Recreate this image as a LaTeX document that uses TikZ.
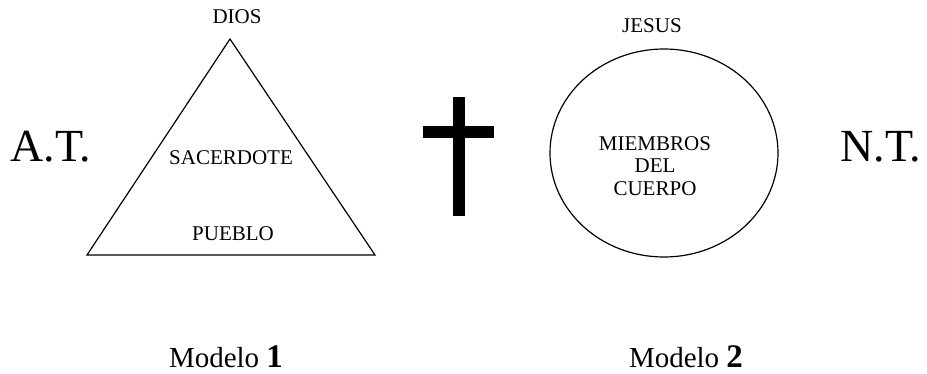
\documentclass[tikz,border=0pt]{standalone}
\usepackage{fontspec}
\setmainfont{Liberation Serif}
\begin{document}
\begin{tikzpicture}[x=1pt,y=-1pt]
\tikzset{small/.style={inner sep=0pt,font=\fontsize{21}{22.5}\selectfont},
big/.style={inner sep=0pt,anchor=base,font=\fontsize{46}{50}\selectfont},
model/.style={inner sep=0pt,anchor=base,font=\fontsize{29}{30}\selectfont}}
\useasboundingbox (0,0) rectangle (927,374);
\draw[line width=1.2pt,line join=miter] (230,39) -- (375,255) -- (87,255) -- cycle;
\node[small,anchor=base] (dios) at (237,24) {DIOS};
\node[small,anchor=base] (sacerdote) at (231,165) {SACERDOTE};
\node[small,anchor=base] (pueblo) at (233,241) {PUEBLO};
\fill (453,97) rectangle (465,216);
\fill (423,126) rectangle (494,138);
\draw[line width=1.2pt] (664,153) ellipse [x radius=114,y radius=104];
\node[small,anchor=base] (jesus) at (652,33) {JESUS};
\node[small,anchor=north,align=center] (miembros) at (655,136) {MIEMBROS\\DEL\\CUERPO};
\node[big] (at) at (51,162) {A.T.};
\node[big] (nt) at (881,162) {N.T.};
\node[model] (modelo1) at (226,367) {Modelo {\fontsize{33}{34}\selectfont\textbf{1}}};
\node[model] (modelo2) at (686,367) {Modelo {\fontsize{33}{34}\selectfont\textbf{2}}};
\end{tikzpicture}
\end{document}
